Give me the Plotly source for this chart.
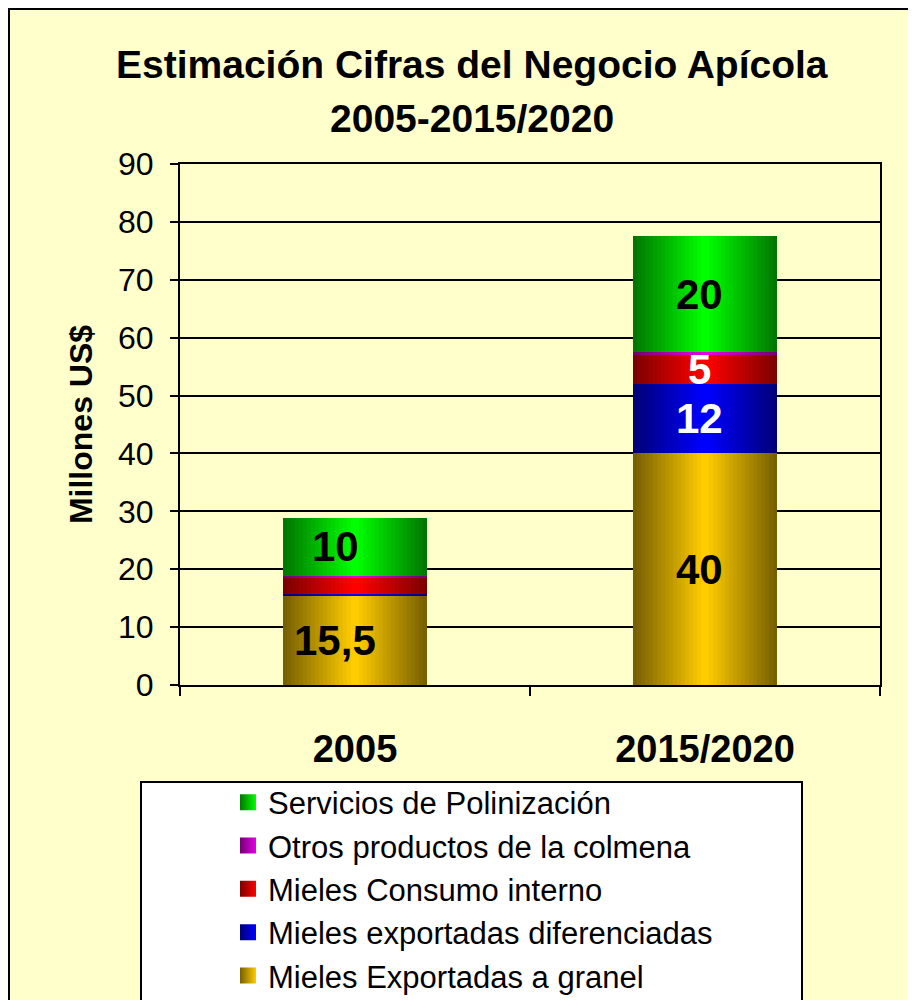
import plotly.graph_objects as go

# ---- data ----
categories = ["2005", "2015/2020"]
mieles_granel = [15.5, 40]
mieles_diferenciadas = [0.3, 12]
mieles_consumo = [2.7, 5]
otros_productos = [0.4, 0.5]
servicios_polinizacion = [10, 20]

series_names = [
    "Mieles Exportadas a granel",
    "Mieles exportadas diferenciadas",
    "Mieles Consumo interno",
    "Otros productos de la colmena",
    "Servicios de Polinización",
]
series_values = [mieles_granel, mieles_diferenciadas, mieles_consumo,
                 otros_productos, servicios_polinizacion]

# ---- styles ----
center_colors = [(255, 204, 0), (0, 0, 255), (255, 0, 0), (230, 0, 230), (0, 255, 0)]
edge_colors = [(120, 96, 0), (0, 0, 120), (125, 0, 0), (115, 0, 115), (0, 120, 0)]
label_colors = ["black", "white", "white", "black", "black"]
FONT = "Arial, Liberation Sans, sans-serif"
BAR_W = 0.41
N_LAYERS = 18

OFF = 8  # page body margin
W, H = 916, 1000
L, T = 180 - OFF, 164 - OFF
R, B = W - (880 - OFF), H - (685 - OFF)
PW, PH = W - L - R, H - T - B


def px_x(p):
    """page pixel x -> paper coordinate"""
    return (p - OFF - L) / PW


def px_y(p):
    """page pixel y -> paper coordinate"""
    return (H - B - (p - OFF)) / PH


def mix(a, b, t):
    return "rgb(%d,%d,%d)" % tuple(round(a[i] + (b[i] - a[i]) * t) for i in range(3))


fig = go.Figure()

bases = [0.0] * len(categories)
annotations = []
for s, (name, vals) in enumerate(zip(series_names, series_values)):
    for k in range(N_LAYERS):
        t = k / (N_LAYERS - 1)
        fig.add_trace(go.Bar(
            x=categories, y=vals, base=list(bases),
            width=BAR_W * (1 - k / N_LAYERS),
            marker=dict(color=mix(edge_colors[s], center_colors[s], t), line=dict(width=0)),
            showlegend=False, hoverinfo="skip",
        ))
    for i, v in enumerate(vals):
        if v >= 5:
            txt = ("%g" % v).replace(".", ",")
            annotations.append(dict(
                x=i, y=bases[i] + v / 2, xref="x", yref="y",
                text="<b>%s</b>" % txt, showarrow=False,
                xshift=-20 if i == 0 else -6,
                font=dict(family=FONT, size=42, color=label_colors[s]),
            ))
    bases = [b + v for b, v in zip(bases, vals)]

# legend entries (top to bottom)
for s in reversed(range(len(series_names))):
    fig.add_trace(go.Scatter(
        x=[None], y=[None], mode="markers", name=series_names[s],
        marker=dict(symbol="square", size=19, color=mix(edge_colors[s], center_colors[s], 0.0),
                    gradient=dict(type="horizontal", color=mix(edge_colors[s], center_colors[s], 1.0)),
                    line=dict(width=0)),
    ))

# title
annotations += [
    dict(text="<b>Estimación Cifras del Negocio Apícola</b>", xref="paper", yref="paper",
         x=px_x(472), y=px_y(64), xanchor="center", yanchor="middle", showarrow=False,
         font=dict(family=FONT, size=39, color="black")),
    dict(text="<b>2005-2015/2020</b>", xref="paper", yref="paper",
         x=px_x(472), y=px_y(118.5), xanchor="center", yanchor="middle", showarrow=False,
         font=dict(family=FONT, size=39, color="black")),
]

shapes = [
    dict(type="rect", xref="paper", yref="paper", layer="below",
         x0=px_x(OFF + 1), x1=px_x(912), y0=px_y(1030), y1=px_y(OFF + 1),
         fillcolor="#FFFFCC", line=dict(color="black", width=2)),
    dict(type="rect", xref="paper", yref="paper", layer="below",
         x0=px_x(141), x1=px_x(802), y0=px_y(1030), y1=px_y(782),
         fillcolor="white", line=dict(color="black", width=2)),
]

fig.update_layout(
    width=W, height=H,
    margin=dict(l=L, r=R, t=T, b=B, autoexpand=False),
    paper_bgcolor="white", plot_bgcolor="rgba(0,0,0,0)",
    barmode="overlay", bargap=0,
    font=dict(family=FONT, color="black"),
    annotations=annotations, shapes=shapes,
    legend=dict(x=px_x(228), y=px_y(803 - 27.4), xanchor="left", yanchor="top",
                bgcolor="rgba(0,0,0,0)", borderwidth=0,
                font=dict(family=FONT, size=31, color="black"), traceorder="normal"),
    xaxis=dict(type="category", categoryorder="array", categoryarray=categories,
               range=[-0.5, 1.5], showline=True, linecolor="black", linewidth=2, mirror=True,
               ticks="outside", tickson="boundaries", ticklen=9, tickwidth=2, tickcolor="black",
               ticklabelstandoff=29, showgrid=False,
               tickfont=dict(family=FONT, size=38, color="black"),
               tickvals=categories, ticktext=["<b>%s</b>" % c for c in categories]),
    yaxis=dict(range=[0, 90], dtick=10, tick0=0, showline=True, linecolor="black", linewidth=2,
               mirror=True, ticks="outside", ticklen=8, tickwidth=2, tickcolor="black",
               showgrid=True, gridcolor="black", gridwidth=2, zeroline=False,
               tickfont=dict(family=FONT, size=32, color="black"), ticklabelstandoff=10,
               title=dict(text="<b>Millones US$</b>", font=dict(family=FONT, size=32, color="black"),
                          standoff=16)),
)

fig.write_html("out.html")
